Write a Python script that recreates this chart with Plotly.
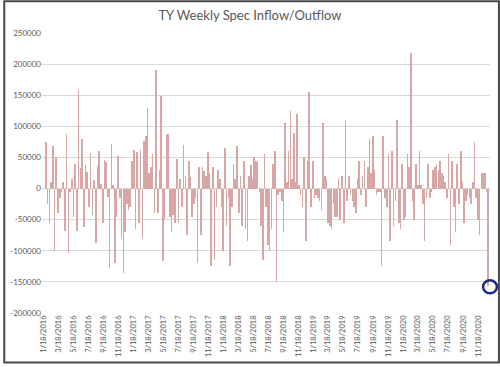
import pandas as pd
import plotly.graph_objects as go

# weekly net spec flow, in thousands of contracts
seg1 = [0, 75, -25, -55, 10, 68, -100, 50, -40, -15, -5, 10, -68, 87, -103, -5, 15, -45, 40, -68,
        158, 33, 80, -62, 38, 27, -30, 57, -43, 13, -87, 37, 60, 8, -55, 46, 42, -13, -128, 72,
        5, -120, -45, 53, -15, -80, -135, -70, -25, -35]
seg2 = [-30, 45, 62, -65, 58, -55, 62, -80, 77, 85, 130, 25, 35, 55, -40, 190, -40, 30, 148, -117,
        -50, 87, 87, -45, -70, -42, -55, 48, -55, 15, -30, 70, 20, -75, 45, 18, -45, -25, -15, -120,
        35, -75, 35, 28, 20, 58, 25, -125, 35, -115, -30, 30]
seg3 = [15, -30, -100, 65, -60, -15, -125, -30, 40, 15, 68, -40, 20, -60, 45, -65, -85, 20, 38, 15,
        50, 45, 42, -5, -60, -115, 55, -30, -90, -100, -65, 40, 60, -150, -10, -5, -20, -70, 105, 10,
        60, 125, 15, 90, 10, 120, 5, -10, -30, 50, -85, 45]
seg4 = [155, -30, 45, -15, -10, -15, -20, -35, 105, 20, 15, -55, -60, -65, -25, -45, -45, 15, -50, 20,
        -55, 110, -20, 20, -10, -20, -30, -40, 15, 45, -10, 20, 45, -30, 35, 80, 25, 85, 30, -10,
        -5, -5, -125, 85, -15, -30, 55, -85, 60, -60, -20, 110]
seg5 = [-55, -65, 40, -50, -45, 55, 35, 218, -20, -50, 40, 5, 60, 5, -25, -85, -15, 40, -15, -5,
        30, 35, 40, 30, 45, 25, 20, 10, -15, 55, -90, 45, -30, -70, 40, -25, 60, 10, -55, -20,
        -10, -15, -25, 10, 75, -15, -50, -75, 25, 25, 25, -5, -157]

flows_k = seg1 + seg2 + seg3 + seg4 + seg5
values = [v * 1000 for v in flows_k]
dates = pd.date_range("2016-01-19", periods=len(values), freq="7D")

tick_dates = pd.date_range("2016-01-01", "2020-11-01", freq="2MS") + pd.Timedelta(days=17)
tick_text = [f"{d.month}/{d.day}/{d.year}" for d in tick_dates]
y_ticks = list(range(-200000, 250001, 50000))

fig = go.Figure()
fig.add_trace(go.Bar(
    x=dates, y=values,
    width=2.5 * 24 * 3600 * 1000,
    marker=dict(color="#d9a6a6", line=dict(width=0)),
))

L, R, T, B = 39, 10, 33, 51
W, H = 500 - L - R, 367 - T - B

fig.update_layout(
    width=500, height=367,
    margin=dict(l=L, r=R, t=T, b=B),
    paper_bgcolor="white", plot_bgcolor="white",
    showlegend=False,
    bargap=0,
    title=dict(text="TY Weekly Spec Inflow/Outflow", x=0.5, xanchor="center",
               y=1 - 15 / 367, yanchor="middle",
               font=dict(family="Lato, Open Sans, sans-serif", size=13, color="#595959")),
    font=dict(family="Lato, Liberation Sans, sans-serif", color="#595959"),
    xaxis=dict(
        type="date", range=["2016-01-10", "2021-01-05"],
        tickmode="array", tickvals=tick_dates, ticktext=tick_text,
        tickangle=-90, tickfont=dict(size=7.5, color="#595959"),
        showgrid=False, showline=False, ticks="", zeroline=False,
    ),
    yaxis=dict(
        range=[-200000, 250000], tickmode="array", tickvals=y_ticks,
        ticktext=[str(v) for v in y_ticks],
        tickfont=dict(size=8, color="#595959"),
        showgrid=True, gridcolor="#d9d9d9", gridwidth=1,
        zeroline=True, zerolinecolor="#d9d9d9", zerolinewidth=1,
        showline=False, ticks="", ticklen=0,
    ),
    shapes=[
        dict(type="rect", xref="paper", yref="paper",
             x0=(-L + 1) / W, x1=(500 - L - 1) / W,
             y0=(-B + 1) / H, y1=1 + (T - 1) / H,
             line=dict(color="#4a4a4a", width=2)),
        dict(type="circle", xref="paper", yref="paper",
             x0=(483 - L) / W, x1=(497 - L) / W,
             y0=(316 - 296) / H, y1=(316 - 283) / H,
             line=dict(color="#1c2a8c", width=2.5)),
    ],
)

fig.write_html("out.html", config={"displayModeBar": False},
               post_script="document.body.style.margin='0';document.body.style.padding='0';")
